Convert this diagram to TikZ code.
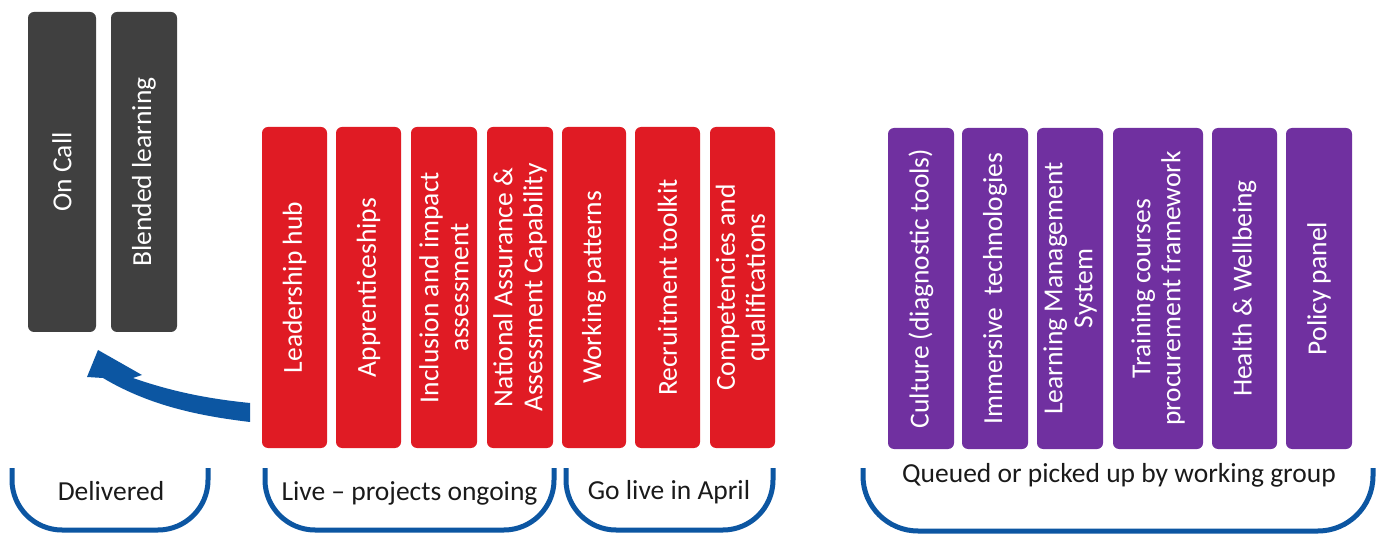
\documentclass[tikz,border=0pt]{standalone}
\usepackage{fontspec}
\setmainfont{Carlito}
\definecolor{boxgray}{RGB}{64,64,64}
\definecolor{boxred}{RGB}{224,27,36}
\definecolor{boxpurple}{RGB}{112,48,160}
\definecolor{brblue}{RGB}{12,86,162}
\definecolor{labeltext}{RGB}{26,26,26}
\begin{document}
\begin{tikzpicture}[x=1pt,y=-1pt,
  tile/.style={rotate=90, rounded corners=6pt, text=white, align=center,
    font=\fontsize{27.5}{30}\selectfont, inner sep=0pt},
  graytile/.style={tile, fill=boxgray, minimum width=320pt, minimum height=#1},
  redtile/.style={tile, fill=boxred, minimum width=321pt, minimum height=#1},
  purpletile/.style={tile, fill=boxpurple, minimum width=321pt, minimum height=#1},
  bracket/.style={draw=brblue, line width=5pt, rounded corners=50pt},
  blabel/.style={anchor=base, text=labeltext, font=\fontsize{27.5}{30}\selectfont, inner sep=0pt}
]
\useasboundingbox[fill=white] (0,0) rectangle (1379,534);

% delivered
\node[graytile=68pt] (oncall) at (62,172) {On Call};
\node[graytile=66pt] (blended) at (144,172) {Blended learning};

% live
\node[redtile=65pt] (lead) at (294.5,287.5) {Leadership hub};
\node[redtile=65pt] (appr) at (368.5,287.5) {Apprenticeships};
\node[redtile=66pt] (incl) at (444,287.5) {Inclusion and impact\\assessment};
\node[redtile=66pt] (natl) at (520,287.5) {National Assurance \&\\Assessment Capability};
% go live
\node[redtile=64pt] (work) at (594,287.5) {Working patterns};
\node[redtile=65pt] (recr) at (667.5,287.5) {Recruitment toolkit};
\node[redtile=65pt] (comp) at (742.5,287.5) {Competencies and\\qualifications};

% queued
\node[purpletile=66pt] (cult) at (921,288.5) {Culture (diagnostic tools)};
\node[purpletile=66pt] (imm) at (995,288.5) {Immersive\ \ technologies};
\node[purpletile=66pt] (lms) at (1070,288.5) {Learning Management\\System};
\node[purpletile=90pt] (train) at (1158,288.5) {Training courses\\procurement framework};
\node[purpletile=65pt] (health) at (1244.5,288.5) {Health \& Wellbeing};
\node[purpletile=66pt] (policy) at (1319,288.5) {Policy panel};

% brackets
\draw[bracket] (12,468) -- (12,530) -- (208,530) -- (208,468);
\draw[bracket] (265,468) -- (265,530) -- (554,530) -- (554,468);
\draw[bracket] (566,468) -- (566,530) -- (773,530) -- (773,468);
\draw[bracket, rounded corners=55pt] (863,468) -- (863,531) -- (1373,531) -- (1373,468);

\node[blabel] (ldel) at (111,500) {Delivered};
\node[blabel] (llive) at (409.5,500) {Live -- projects ongoing};
\node[blabel] (lgo) at (669,499) {Go live in April};
\node[blabel] (lq) at (1119,482) {Queued or picked up by working group};

% curved block arrow
\fill[brblue] (250,403) .. controls (210,399) and (173,392) .. (133,378)
  -- (142,375) -- (98,350) -- (87,377) -- (103,378)
  .. controls (150,406) and (200,416) .. (250,422) -- cycle;
\end{tikzpicture}
\end{document}
